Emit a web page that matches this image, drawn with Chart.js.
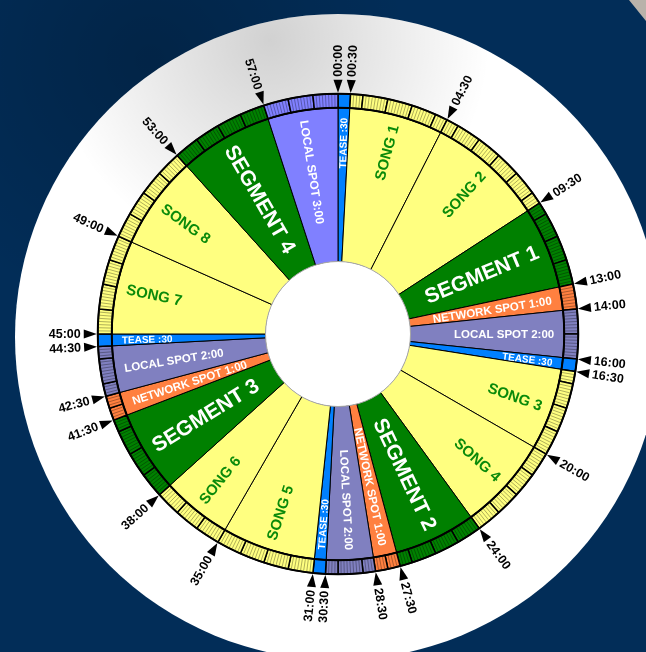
<!DOCTYPE html>
<html>
<head>
<meta charset="utf-8">
<script src="https://cdn.jsdelivr.net/npm/chart.js@4.4.0/dist/chart.umd.min.js"></script>
<style>
  html, body { margin: 0; padding: 0; background: #022d58; }
  canvas { display: block; }
</style>
</head>
<body>
<canvas id="clock" width="646" height="652"></canvas>
<script>
// blocks of the hour, clockwise from the top
const blockLabels = ['TEASE :30', 'SONG 1', 'SONG 2', 'SEGMENT 1', 'NETWORK SPOT 1:00', 'LOCAL SPOT 2:00',
  'TEASE :30', 'SONG 3', 'SONG 4', 'SEGMENT 2', 'NETWORK SPOT 1:00', 'LOCAL SPOT 2:00',
  'TEASE :30', 'SONG 5', 'SONG 6', 'SEGMENT 3', 'NETWORK SPOT 1:00', 'LOCAL SPOT 2:00',
  'TEASE :30', 'SONG 7', 'SONG 8', 'SEGMENT 4', 'LOCAL SPOT 3:00'];
const blockMinutes = [0.5, 4, 5, 3.5, 1, 2, 0.5, 3.5, 4, 3.5, 1, 2, 0.5, 4, 3, 3.5, 1, 2, 0.5, 4, 4, 4, 3];
const blockKinds = ['tease', 'song', 'song', 'segment', 'network', 'local',
  'tease', 'song', 'song', 'segment', 'network', 'local',
  'tease', 'song', 'song', 'segment', 'network', 'local',
  'tease', 'song', 'song', 'segment', 'local3'];
const markLabels = ['00:00', '00:30', '04:30', '09:30', '13:00', '14:00', '16:00', '16:30', '20:00', '24:00',
  '27:30', '28:30', '30:30', '31:00', '35:00', '38:00', '41:30', '42:30', '44:30', '45:00', '49:00', '53:00', '57:00'];

const kindColors = {
  song: '#ffff80', segment: '#008000', network: '#ff8040',
  local: '#8080c0', local3: '#8080ff', tease: '#0080ff'
};
const kindFonts = {
  song: 'bold 15px "Liberation Sans", Arial, sans-serif',
  segment: 'bold 21px "Liberation Sans", Arial, sans-serif',
  network: 'bold 11.5px "Liberation Sans", Arial, sans-serif',
  local: 'bold 11.5px "Liberation Sans", Arial, sans-serif',
  local3: 'bold 12px "Liberation Sans", Arial, sans-serif',
  tease: 'bold 10px "Liberation Sans", Arial, sans-serif'
};

// outer ring: every block cut on the whole minute
const tickMinutes = [];
const tickKinds = [];
let pos = 0;
blockMinutes.forEach((m, i) => {
  const end = pos + m;
  let s = pos;
  while (s < end - 1e-9) {
    const next = Math.min(Math.floor(s + 1e-9) + 1, end);
    tickMinutes.push(next - s);
    tickKinds.push(blockKinds[i]);
    s = next;
  }
  pos = end;
});

const backdrop = {
  id: 'backdrop',
  beforeDraw(chart) {
    const ctx = chart.ctx;
    ctx.save();
    ctx.fillStyle = '#022d58';
    ctx.fillRect(0, 0, chart.width, chart.height);
    const g0 = ctx.createRadialGradient(150, 60, 0, 150, 60, 260);
    g0.addColorStop(0, 'rgba(0,0,0,0.2)');
    g0.addColorStop(1, 'rgba(0,0,0,0)');
    ctx.fillStyle = g0;
    ctx.fillRect(0, 0, chart.width, chart.height);
    // grey corner at top right
    ctx.fillStyle = '#b9b2aa';
    ctx.beginPath();
    ctx.moveTo(629, 0); ctx.lineTo(646, 0); ctx.lineTo(646, 21); ctx.closePath();
    ctx.fill();
    // white disk
    ctx.beginPath();
    ctx.arc(338, 337, 323, 0, Math.PI * 2);
    ctx.fillStyle = '#ffffff';
    ctx.fill();
    ctx.clip();
    const g1 = ctx.createRadialGradient(270, 40, 0, 270, 40, 220);
    g1.addColorStop(0, 'rgba(0,0,0,0.18)');
    g1.addColorStop(1, 'rgba(0,0,0,0)');
    ctx.fillStyle = g1;
    ctx.fillRect(0, 0, chart.width, chart.height);
    ctx.restore();
  }
};

const details = {
  id: 'details',
  afterDatasetsDraw(chart) {
    const ctx = chart.ctx;
    const ring = chart.getDatasetMeta(0).data;
    const main = chart.getDatasetMeta(1).data;
    const cx = ring[0].x, cy = ring[0].y;
    const rOut = ring[0].outerRadius, rMid = ring[0].innerRadius, rIn = main[0].innerRadius;
    ctx.save();

    // hatching inside the outer cells
    ctx.strokeStyle = 'rgba(0,0,0,0.45)';
    ctx.lineWidth = 0.7;
    const step = Math.PI * 2 / 480;
    ring.forEach((arc, i) => {
      if (tickKinds[i] === 'tease') return;
      const span = arc.endAngle - arc.startAngle;
      const n = Math.max(1, Math.round(span / step));
      for (let k = 1; k < n; k++) {
        const a = arc.startAngle + span * k / n;
        ctx.beginPath();
        ctx.moveTo(cx + Math.cos(a) * (rMid + 1), cy + Math.sin(a) * (rMid + 1));
        ctx.lineTo(cx + Math.cos(a) * (rOut - 1), cy + Math.sin(a) * (rOut - 1));
        ctx.stroke();
      }
    });

    // heavy rims
    ctx.strokeStyle = '#000';
    ctx.lineWidth = 2;
    [rOut, rMid].forEach(r => {
      ctx.beginPath();
      ctx.arc(cx, cy, r, 0, Math.PI * 2);
      ctx.stroke();
    });

    // centre hole
    ctx.beginPath();
    ctx.arc(cx, cy, rIn + 0.5, 0, Math.PI * 2);
    ctx.fillStyle = '#fff';
    ctx.fill();
    ctx.strokeStyle = '#a8a8a8';
    ctx.lineWidth = 1;
    ctx.stroke();

    // block labels, written along the radius
    ctx.textBaseline = 'middle';
    main.forEach((arc, i) => {
      const a = (arc.startAngle + arc.endAngle) / 2;
      const kind = blockKinds[i];
      ctx.save();
      ctx.translate(cx, cy);
      ctx.font = kindFonts[kind];
      ctx.fillStyle = kind === 'song' ? '#0a8a0a' : '#ffffff';
      if (Math.cos(a) >= 0) {
        ctx.rotate(a);
        ctx.textAlign = 'right';
        ctx.fillText(blockLabels[i], rMid - 10, 1);
      } else {
        ctx.rotate(a + Math.PI);
        ctx.textAlign = 'left';
        ctx.fillText(blockLabels[i], -(rMid - 10), 1);
      }
      ctx.restore();
    });

    // time marks outside the ring
    ctx.font = 'bold 12.5px "Liberation Sans", Arial, sans-serif';
    ctx.fillStyle = '#000';
    markLabels.forEach(lbl => {
      const [mm, ss] = lbl.split(':').map(Number);
      const a = -Math.PI / 2 + (mm + ss / 60) / 60 * Math.PI * 2;
      ctx.save();
      ctx.translate(cx, cy);
      ctx.rotate(a);
      ctx.beginPath();
      ctx.moveTo(rOut + 1, 0);
      ctx.lineTo(rOut + 14, -4.5);
      ctx.lineTo(rOut + 14, 4.5);
      ctx.closePath();
      ctx.fill();
      if (Math.cos(a) >= -1e-6) {
        ctx.textAlign = 'left';
        ctx.fillText(lbl, rOut + 17, 0.5);
      } else {
        ctx.rotate(Math.PI);
        ctx.textAlign = 'right';
        ctx.fillText(lbl, -(rOut + 17), 0.5);
      }
      ctx.restore();
    });
    ctx.restore();
  }
};

new Chart(document.getElementById('clock').getContext('2d'), {
  type: 'doughnut',
  data: {
    labels: blockLabels,
    datasets: [{
      data: tickMinutes,
      backgroundColor: tickKinds.map(k => kindColors[k]),
      borderColor: '#000',
      borderWidth: 1.5,
      weight: 14
    }, {
      data: blockMinutes,
      backgroundColor: blockKinds.map(k => kindColors[k]),
      borderColor: '#000',
      borderWidth: 1,
      weight: 154
    }]
  },
  options: {
    responsive: false,
    animation: false,
    cutout: 72,
    layout: { padding: { left: 97, right: 67, top: 93, bottom: 77 } },
    plugins: {
      legend: { display: false },
      tooltip: { enabled: false }
    }
  },
  plugins: [backdrop, details]
});
</script>
</body>
</html>
